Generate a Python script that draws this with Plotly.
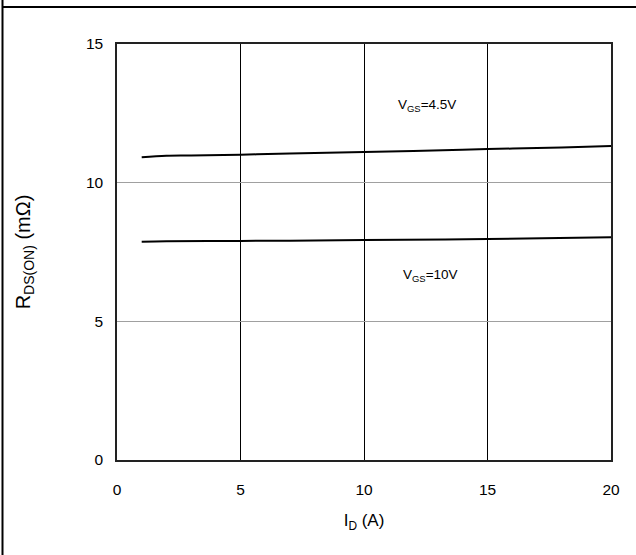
import plotly.graph_objects as go

# Data
id_vals_45 = [1, 2, 3, 5, 7, 10, 12, 15, 18, 20]
rds_vgs_45 = [10.92, 10.97, 10.98, 11.01, 11.05, 11.11, 11.14, 11.21, 11.27, 11.32]
id_vals_10 = [1, 2, 5, 7, 10, 15, 20]
rds_vgs_10 = [7.87, 7.89, 7.90, 7.91, 7.93, 7.97, 8.03]

x_ticks = [0, 5, 10, 15, 20]
y_ticks = [0, 5, 10, 15]
label_45 = "V<sub>GS</sub>=4.5V"
label_10 = "V<sub>GS</sub>=10V"
x_title = "I<sub>D</sub> (A)"
y_title = "R<sub>DS(ON)</sub> (mΩ)"

FONT = "Liberation Sans, Arial, sans-serif"

fig = go.Figure()
fig.add_trace(go.Scatter(x=id_vals_45, y=rds_vgs_45, mode="lines",
                         line=dict(color="black", width=2), line_shape="spline",
                         showlegend=False, hoverinfo="skip"))
fig.add_trace(go.Scatter(x=id_vals_10, y=rds_vgs_10, mode="lines",
                         line=dict(color="black", width=2), line_shape="spline",
                         showlegend=False, hoverinfo="skip"))

fig.add_annotation(x=12.55, y=12.8, text=label_45, showarrow=False,
                   font=dict(family=FONT, size=13.5, color="black"))
fig.add_annotation(x=12.7, y=6.67, text=label_10, showarrow=False,
                   font=dict(family=FONT, size=13.5, color="black"))

W, H = 636, 555
ml, mr, mt, mb = 117, 25, 44, 95
pw, ph = W - ml - mr, H - mt - mb

def px_x(p):
    return (p - ml) / pw

def px_y(p):
    return (H - mb - p) / ph

# outer frame pieces (left border and top line)
fig.add_shape(type="line", xref="paper", yref="paper",
              x0=px_x(2.5), x1=px_x(2.5), y0=px_y(0), y1=px_y(H),
              line=dict(color="black", width=2))
fig.add_shape(type="line", xref="paper", yref="paper",
              x0=px_x(2.5), x1=px_x(W), y0=px_y(7), y1=px_y(7),
              line=dict(color="black", width=2))

fig.update_layout(
    width=W, height=H,
    margin=dict(l=ml, r=mr, t=mt, b=mb),
    paper_bgcolor="white", plot_bgcolor="white",
    font=dict(family=FONT, color="black"),
    showlegend=False,
)
fig.update_xaxes(range=[0, 20], tickvals=x_ticks, showgrid=True,
                 gridcolor="black", gridwidth=1, zeroline=False,
                 showline=True, linecolor="#222", linewidth=1.5, mirror=True,
                 ticks="", ticklabelstandoff=15,
                 tickfont=dict(family=FONT, size=15.5, color="black"),
                 title=dict(text=x_title, font=dict(family=FONT, size=17, color="black"), standoff=17))
fig.update_yaxes(range=[0, 15], tickvals=y_ticks, showgrid=True,
                 gridcolor="#a0a0a0", gridwidth=1, zeroline=False,
                 showline=True, linecolor="#222", linewidth=1.5, mirror=True,
                 ticks="", ticklabelstandoff=9,
                 tickfont=dict(family=FONT, size=15.5, color="black"),
                 title=dict(text=y_title, font=dict(family=FONT, size=20, color="black"), standoff=50))

fig.write_html("out.html", config={"displayModeBar": False},
               post_script="document.body.style.margin='0';")
